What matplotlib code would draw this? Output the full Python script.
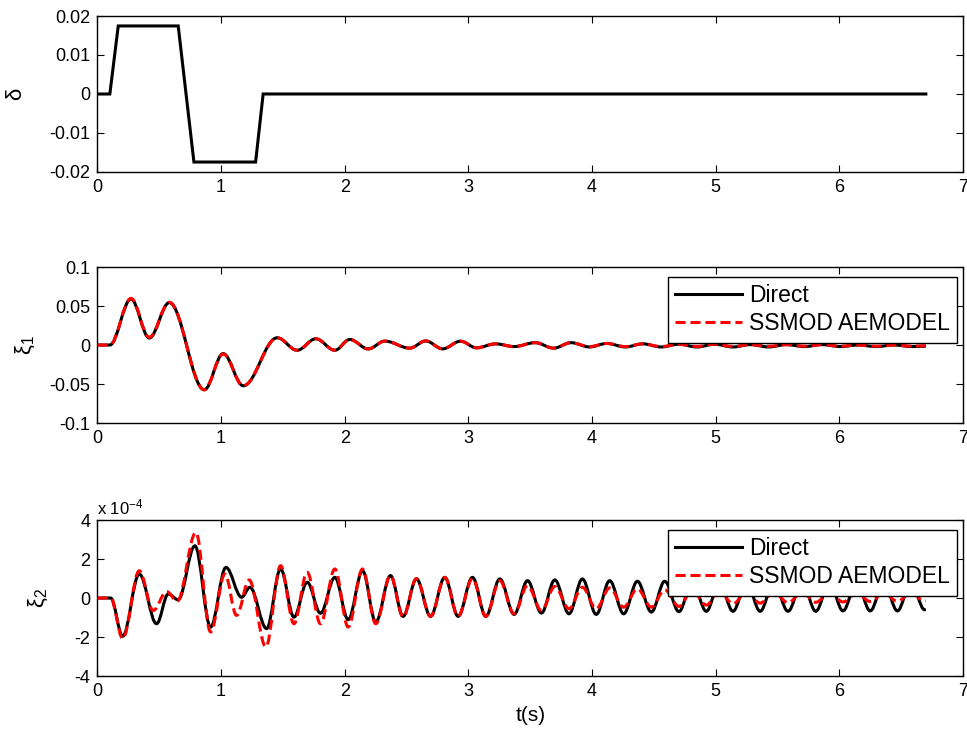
import matplotlib
matplotlib.use("Agg")
import matplotlib.pyplot as plt
from matplotlib.path import Path
from matplotlib.patches import PathPatch
from matplotlib.lines import Line2D

plt.rcParams.update({
    "font.family": ["Liberation Sans", "DejaVu Sans"],
    "font.size": 13,
    "axes.unicode_minus": False,
    "mathtext.fontset": "custom",
    "mathtext.rm": "Liberation Sans",
    "mathtext.default": "regular",
})

# control surface deflection (rad)
delta_t = [0.0, 0.10, 0.168, 0.653, 0.78, 1.279, 1.34, 6.70]
delta_v = [0.0, 0.0, 0.01745, 0.01745, -0.01745, -0.01745, 0.0, 0.0]

# first modal coordinate, turning points
xi1_t = [0.0, 0.10, 0.271, 0.419, 0.581, 0.864, 1.017, 1.179, 1.454, 1.615,
         1.766, 1.92, 2.041, 2.19, 2.324, 2.526, 2.655, 2.792, 2.936, 3.066,
         3.22, 3.37, 3.54, 3.69, 3.83, 3.98, 4.12, 4.27, 4.41, 4.56,
         4.70, 4.85, 4.99, 5.14, 5.28, 5.43, 5.57, 5.72, 5.86, 6.01,
         6.15, 6.30, 6.44, 6.59, 6.70]
xi1_direct = [0.0, 0.0, 0.0590, 0.0090, 0.0544, -0.0574, -0.0110, -0.0523, 0.0093, -0.0067,
              0.0080, -0.0067, 0.0071, -0.0050, 0.0050, -0.0040, 0.0052, -0.0049, 0.0049, -0.0036,
              0.0015, -0.0020, 0.0030, -0.0040, 0.0030, -0.0025, 0.0020, -0.0025, 0.0015, -0.0025,
              0.0010, -0.0025, 0.0010, -0.0025, 0.0005, -0.0025, 0.0005, -0.0020, 0.0005, -0.0020,
              0.0, -0.0020, 0.0, -0.0020, -0.0015]
xi1_ssmod = [0.0, 0.0, 0.0598, 0.0100, 0.0548, -0.0574, -0.0115, -0.0523, 0.0093, -0.0067,
             0.0080, -0.0067, 0.0071, -0.0050, 0.0050, -0.0040, 0.0052, -0.0049, 0.0049, -0.0036,
             0.0015, -0.0020, 0.0030, -0.0040, 0.0030, -0.0020, 0.0020, -0.0020, 0.0015, -0.0020,
             0.0010, -0.0018, 0.0010, -0.0018, 0.0005, -0.0016, 0.0005, -0.0015, 0.0005, -0.0015,
             0.0, -0.0015, 0.0, -0.0015, -0.0010]

# second modal coordinate, turning points (values in units of 1e-4)
xi2_direct_t = [0.0, 0.107, 0.204, 0.338, 0.478, 0.573, 0.653, 0.788, 0.915, 1.039,
                1.166, 1.233, 1.368, 1.481, 1.589, 1.696, 1.804, 1.92, 2.028, 2.144,
                2.251, 2.37, 2.472, 2.58, 2.694, 2.809, 2.917, 3.033, 3.141, 3.254,
                3.37, 3.478, 3.591, 3.699, 3.814, 3.922, 4.034, 4.143, 4.256, 4.367,
                4.48, 4.588, 4.703, 4.81, 4.925, 5.03, 5.14, 5.25, 5.36, 5.47,
                5.585, 5.70, 5.81, 5.92, 6.03, 6.14, 6.25, 6.36, 6.47, 6.58,
                6.69, 6.70]
xi2_direct = [0.0, 0.0, -1.96, 1.23, -1.32, 0.21, -0.09, 2.68, -1.49, 1.57,
              0.04, 0.55, -1.57, 1.49, -0.98, 0.81, -0.78, 1.06, -1.11, 1.40,
              -1.23, 1.15, -0.94, 0.98, -0.94, 1.06, -0.94, 1.06, -0.94, 0.98,
              -0.84, 0.89, -0.77, 0.93, -0.81, 0.98, -0.84, 0.89, -0.81, 0.86,
              -0.72, 0.86, -0.70, 0.82, -0.68, 0.80, -0.68, 0.80, -0.68, 0.80,
              -0.68, 0.80, -0.68, 0.80, -0.66, 0.80, -0.66, 0.80, -0.66, 0.80,
              -0.60, -0.60]

xi2_ssmod_t = [0.0, 0.107, 0.204, 0.338, 0.451, 0.559, 0.645, 0.796, 0.915, 1.031,
               1.125, 1.227, 1.362, 1.481, 1.589, 1.696, 1.804, 1.92, 2.028, 2.144,
               2.251, 2.37, 2.472, 2.58, 2.694, 2.809, 2.917, 3.033, 3.141, 3.254,
               3.37, 3.478, 3.591, 3.699, 3.814, 3.922, 4.034, 4.143, 4.256, 4.367,
               4.48, 4.588, 4.703, 4.81, 4.925, 5.03, 5.14, 5.25, 5.36, 5.47,
               5.585, 5.70, 5.81, 5.92, 6.03, 6.14, 6.25, 6.36, 6.47, 6.58,
               6.69, 6.70]
xi2_ssmod = [0.0, 0.0, -2.08, 1.40, -0.64, 0.33, -0.16, 3.36, -1.74, 1.23,
             -0.89, 0.93, -2.51, 1.66, -1.32, 1.32, -1.32, 1.49, -1.49, 1.49,
             -1.32, 1.15, -0.97, 1.00, -0.94, 1.06, -0.94, 1.00, -0.94, 0.89,
             -0.81, 0.64, -0.64, 0.59, -0.55, 0.55, -0.55, 0.52, -0.47, 0.47,
             -0.47, 0.42, -0.43, 0.38, -0.36, 0.35, -0.30, 0.32, -0.26, 0.30,
             -0.24, 0.28, -0.22, 0.27, -0.20, 0.26, -0.18, 0.25, -0.17, 0.25,
             -0.15, -0.15]

x_ticks = [0, 1, 2, 3, 4, 5, 6, 7]
delta_ticks = [-0.02, -0.01, 0, 0.01, 0.02]
delta_labels = ["-0.02", "-0.01", "0", "0.01", "0.02"]
xi1_ticks = [-0.1, -0.05, 0, 0.05, 0.1]
xi1_labels = ["-0.1", "-0.05", "0", "0.05", "0.1"]
xi2_ticks = [-4, -2, 0, 2, 4]
xi2_labels = ["-4", "-2", "0", "2", "4"]

LW = 2.2
DASH = (0, (3.3, 1.6))


def smooth_line(ax, t, v, **kw):
    # cubic segments with flat tangents at each turning point
    verts = [(t[0], v[0])]
    codes = [Path.MOVETO]
    for t0, v0, t1, v1 in zip(t[:-1], v[:-1], t[1:], v[1:]):
        h = 0.36 * (t1 - t0)
        verts += [(t0 + h, v0), (t1 - h, v1), (t1, v1)]
        codes += [Path.CURVE4] * 3
    ax.add_patch(PathPatch(Path(verts, codes), fill=False, joinstyle="round",
                           capstyle="butt", **kw))


def style_axes(ax, yticks, ylabels, ylim):
    ax.set_xlim(0, 7)
    ax.set_ylim(*ylim)
    ax.set_xticks(x_ticks)
    ax.set_xticklabels([str(x) for x in x_ticks])
    ax.set_yticks(yticks)
    ax.set_yticklabels(ylabels)
    ax.tick_params(direction="in", top=True, right=True, length=5, width=0.8,
                   labelsize=13, pad=5)
    for s in ax.spines.values():
        s.set_linewidth(1.0)


def add_legend(ax):
    handles = [Line2D([], [], color="k", lw=LW),
               Line2D([], [], color="r", lw=LW, ls=DASH)]
    leg = ax.legend(handles, ["Direct", "SSMOD AEMODEL"], loc="upper right",
                    bbox_to_anchor=(0.993, 0.936), borderaxespad=0, fontsize=16.5,
                    fancybox=False, framealpha=1, edgecolor="k", handlelength=2.9,
                    handletextpad=0.3, labelspacing=0.22, borderpad=0.32)
    leg.get_frame().set_linewidth(1.0)
    leg.set_zorder(10)


fig = plt.figure(figsize=(9.67, 7.34), dpi=100)
ax1 = fig.add_axes([0.1008, 0.7657, 0.895, 0.2125])
ax2 = fig.add_axes([0.1008, 0.4237, 0.895, 0.2125])
ax3 = fig.add_axes([0.1008, 0.0790, 0.895, 0.2125])

ax1.plot(delta_t, delta_v, color="k", lw=LW, solid_joinstyle="miter")
style_axes(ax1, delta_ticks, delta_labels, (-0.02, 0.02))
ax1.set_ylabel("δ", fontsize=16)
ax1.yaxis.set_label_coords(-0.082, 0.5)

smooth_line(ax2, xi1_t, xi1_direct, color="k", lw=LW, zorder=2)
smooth_line(ax2, xi1_t, xi1_ssmod, color="r", lw=LW, ls=DASH, zorder=3)
style_axes(ax2, xi1_ticks, xi1_labels, (-0.1, 0.1))
ax2.set_ylabel("ξ$_1$", fontsize=16)
ax2.yaxis.set_label_coords(-0.070, 0.5)
add_legend(ax2)

smooth_line(ax3, xi2_direct_t, xi2_direct, color="k", lw=LW, zorder=2)
smooth_line(ax3, xi2_ssmod_t, xi2_ssmod, color="r", lw=LW, ls=DASH, zorder=3)
style_axes(ax3, xi2_ticks, xi2_labels, (-4, 4))
ax3.set_ylabel("ξ$_2$", fontsize=16)
ax3.yaxis.set_label_coords(-0.055, 0.5)
ax3.set_xlabel("t(s)", fontsize=15, labelpad=4)
ax3.text(0.0, 1.02, "x 10$^{-4}$", transform=ax3.transAxes, fontsize=12,
         ha="left", va="bottom")
add_legend(ax3)

fig.savefig("out.png", dpi=100)
